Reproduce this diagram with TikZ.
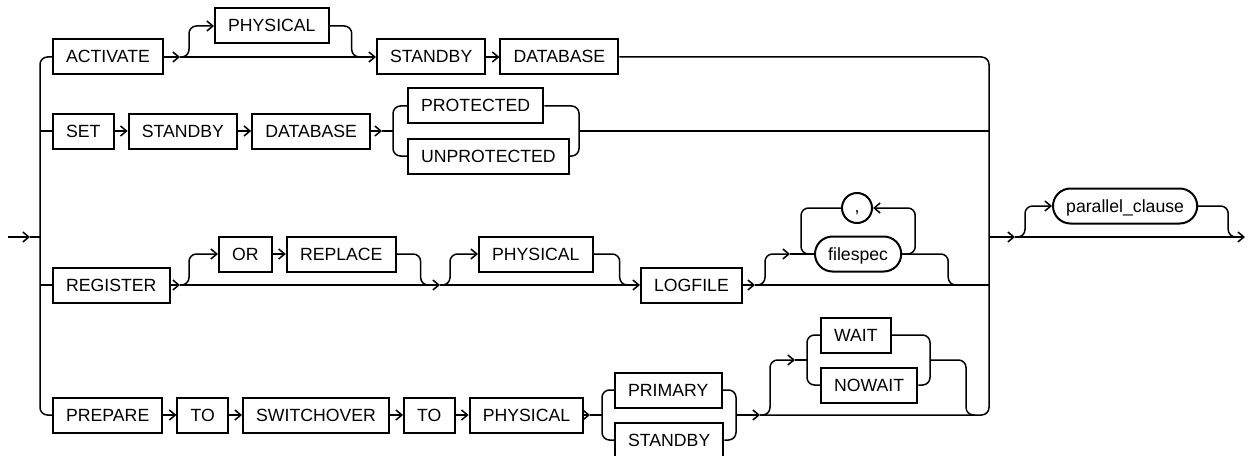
\documentclass[tikz,border=0pt]{standalone}
\usepackage{fontspec}
\setmainfont{Liberation Sans}
\usetikzlibrary{positioning,arrows.meta}

\begin{document}
\begin{tikzpicture}[
  x=0.6pt, y=-0.6pt,
  every node/.style={font=\fontsize{10.6}{12}\selectfont},
  node distance=7.8pt,
  kw/.style={rectangle, draw, line width=1.2pt, minimum height=21pt,
             inner xsep=7.9pt, inner ysep=0pt, text height=0.72em, text depth=0pt},
  nt/.style={kw, rounded corners=10.5pt},
  sepc/.style={circle, draw, line width=1.2pt, minimum size=18pt, inner sep=0pt,
               text height=0.5em, text depth=0pt},
  rail/.style={draw, line width=0.9pt},
  arr/.style={-{Straight Barb[length=3.6pt,width=6pt]}},
  rc/.style={rounded corners=4.5pt}]

\useasboundingbox (0,0) rectangle (1252,456);

\node[kw, anchor=west] (activate) at (52,57) {ACTIVATE};
\node[kw, anchor=west] (phys1) at (214,26) {PHYSICAL};
\node[kw, anchor=west] (standby1) at (376,57) {STANDBY};
\node[kw, right=of standby1] (database1) {DATABASE};

\node[kw, anchor=west] (set) at (52,131) {SET};
\node[kw, right=of set] (standby2) {STANDBY};
\node[kw, right=of standby2] (database2) {DATABASE};
\node[kw, anchor=west] (protected) at (407,106) {PROTECTED};
\node[kw, anchor=west] (unprotected) at (407,156) {UNPROTECTED};

\node[kw, anchor=west] (register) at (52,285) {REGISTER};
\node[kw, anchor=west] (or) at (218,254) {OR};
\node[kw, right=of or] (replace) {REPLACE};
\node[kw, anchor=west] (phys3) at (478,254) {PHYSICAL};
\node[kw, anchor=west] (logfile) at (640,285) {LOGFILE};
\node[nt, anchor=west] (filespec) at (814,254) {filespec};
\node[sepc] (comma) at (857,208) {,};

\node[kw, anchor=west] (prepare) at (52,415) {PREPARE};
\node[kw, right=of prepare] (to1) {TO};
\node[kw, right=of to1] (switchover) {SWITCHOVER};
\node[kw, right=of switchover] (to2) {TO};
\node[kw, right=of to2] (phys4) {PHYSICAL};
\node[kw, anchor=west] (primary) at (614,390) {PRIMARY};
\node[kw, anchor=west] (standby4) at (614,440) {STANDBY};
\node[kw, anchor=west] (wait) at (820,335) {WAIT};
\node[kw, anchor=west] (nowait) at (820,385) {NOWAIT};

\node[nt, anchor=west] (parallel) at (1052,206) {parallel\_clause};

\coordinate (start) at (8,237);
\coordinate (a0) at (30,237);
\coordinate (lbar) at (40,237);
\coordinate (rbar) at (989,237);
\coordinate (j1a) at (180,57);
\coordinate (j1b) at (362,57);
\coordinate (a2) at (382,131);
\coordinate (s2) at (393,131);
\coordinate (m2) at (579,131);
\coordinate (j3a) at (180,285);
\coordinate (j3c) at (430,285);
\coordinate (j3b) at (440,285);
\coordinate (j3d) at (628,285);
\coordinate (j3e) at (755,285);
\coordinate (a3) at (790,254);
\coordinate (j3f) at (962,285);
\coordinate (a4) at (590,415);
\coordinate (s4) at (602,415);
\coordinate (m4) at (736,415);
\coordinate (j4a) at (760,415);
\coordinate (a4w) at (795,360);
\coordinate (s4w) at (807,360);
\coordinate (m4w) at (930,360);
\coordinate (j4b) at (975,415);
\coordinate (a5) at (1015,237);
\coordinate (a6) at (1234,237);
\coordinate (finish) at (1245,237);

\draw[rail,arr] (start) -- (a0);
\draw[rail] (a0) -- (lbar);
\draw[rail,rc] (activate.west) -| (lbar) |- (prepare.west);
\draw[rail] (set.west) -- (set.west -| lbar);
\draw[rail] (register.west) -- (register.west -| lbar);

\draw[rail,arr] (activate.east) -- (j1a);
\draw[rail,arr] (j1a) -- (standby1.west);
\draw[rail,arr,rc] (j1a) -| ++(9,-15) |- (phys1.west);
\draw[rail,rc] (phys1.east) -| ++(22,15) |- (j1b);
\draw[rail,arr] (standby1) -- (database1);
\draw[rail,rc] (database1.east) -| (rbar) |- (j4a);

\draw[rail,arr] (set) -- (standby2);
\draw[rail,arr] (standby2) -- (database2);
\draw[rail,arr] (database2.east) -- (a2);
\draw[rail] (a2) -- (s2);
\draw[rail,rc] (protected.west) -| (s2) |- (unprotected.west);
\draw[rail,rc] (protected.east) -| (m2) |- (unprotected.east);
\draw[rail] (m2) -- (m2 -| rbar);

\draw[rail,arr] (register.east) -- (j3a);
\draw[rail,arr] (j3a) -- (j3b);
\draw[rail,arr,rc] (j3a) -| ++(9,-15) |- (or.west);
\draw[rail,arr] (or) -- (replace);
\draw[rail,rc] (replace.east) -| ++(24,15) |- (j3c);
\draw[rail,arr] (j3b) -- (logfile.west);
\draw[rail,arr,rc] (j3b) -| ++(10,-15) |- (phys3.west);
\draw[rail,rc] (phys3.east) -| ++(26,15) |- (j3d);
\draw[rail,arr] (logfile.east) -- (j3e);
\draw[rail] (j3e) -- (j3e -| rbar);
\draw[rail,arr,rc] (j3e) -| ++(10,-15) |- (a3);
\draw[rail] (a3) -- (filespec.west);
\draw[rail,arr,rc] (filespec.east) -| ++(13,-23) |- (comma.east);
\draw[rail,rc] (comma.west) -| ++(-40,23) |- (filespec.west);
\draw[rail,rc] (filespec.east) -| ++(46,15) |- (j3f);

\draw[rail,arr] (prepare) -- (to1);
\draw[rail,arr] (to1) -- (switchover);
\draw[rail,arr] (switchover) -- (to2);
\draw[rail,arr] (to2) -- (phys4);
\draw[rail,arr] (phys4.east) -- (a4);
\draw[rail] (a4) -- (s4);
\draw[rail,rc] (primary.west) -| (s4) |- (standby4.west);
\draw[rail,rc] (primary.east) -| (m4) |- (standby4.east);
\draw[rail,arr] (m4) -- (j4a);
\draw[rail,arr,rc] (j4a) -| ++(10,-30) |- (a4w);
\draw[rail] (a4w) -- (s4w);
\draw[rail,rc] (wait.west) -| (s4w) |- (nowait.west);
\draw[rail,rc] (wait.east) -| (m4w) |- (nowait.east);
\draw[rail,rc] (m4w) -| ++(36,30) |- (j4b);

\draw[rail,arr] (rbar) -- (a5);
\draw[rail,arr] (a5) -- (finish);
\draw[rail,arr,rc] (a5) -| ++(10,-15) |- (parallel.west);
\draw[rail,rc] (parallel.east) -| ++(30,15) |- (a6);
\end{tikzpicture}
\end{document}
